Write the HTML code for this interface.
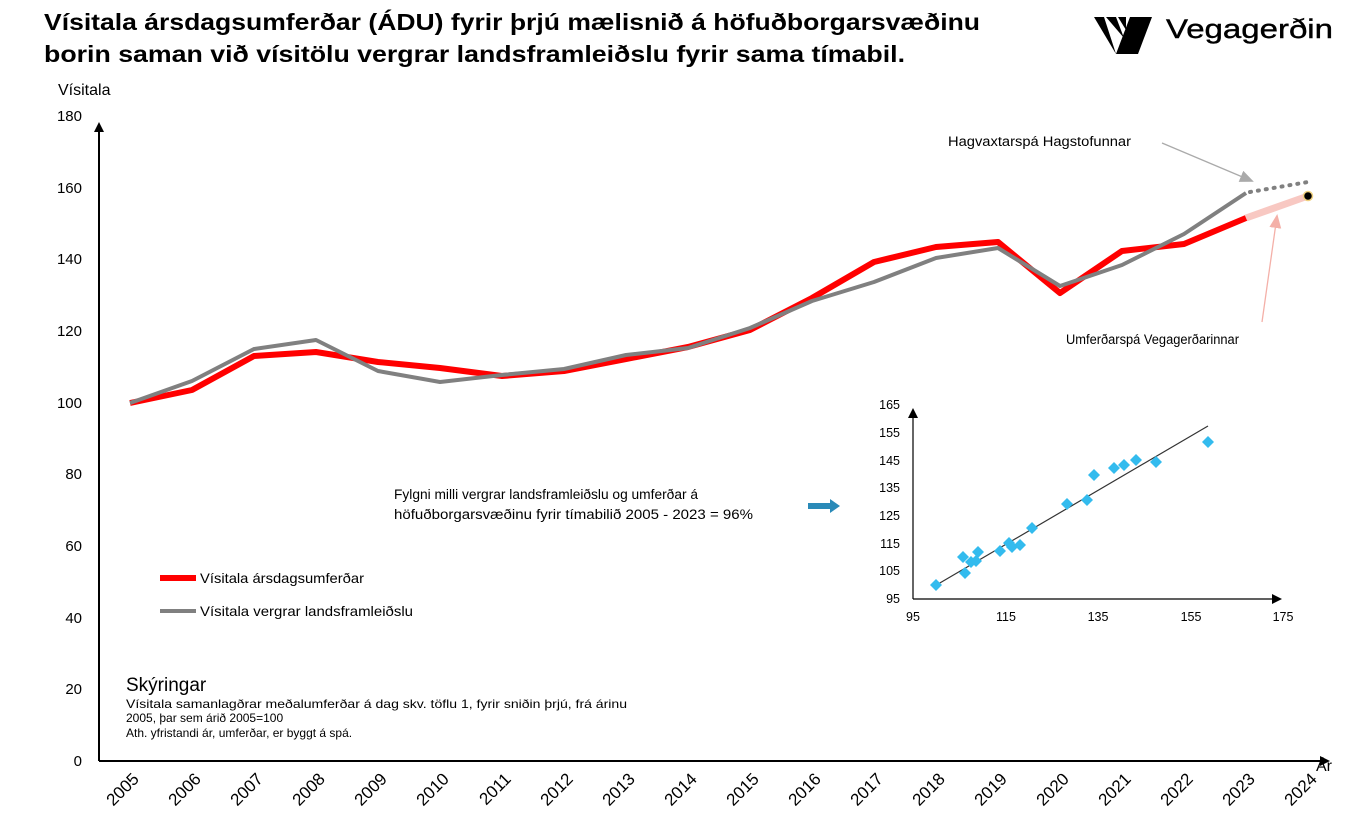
<!DOCTYPE html>
<html><head><meta charset="utf-8"><style>
body{margin:0;background:#fff;width:1351px;height:835px;overflow:hidden;font-family:"Liberation Sans",sans-serif}
</style></head><body>
<svg width="1351" height="835" xmlns="http://www.w3.org/2000/svg" font-family="Liberation Sans, sans-serif">
<defs>
<marker id="ah" markerUnits="userSpaceOnUse" markerWidth="10" markerHeight="12" refX="2" refY="6" orient="auto"><path d="M0,1 L10,6 L0,11 z" fill="#000"/></marker>
<marker id="ag" markerUnits="userSpaceOnUse" markerWidth="14" markerHeight="12" refX="12" refY="6" orient="auto"><path d="M0,0 L14,6 L0,12 z" fill="#aaa"/></marker>
<marker id="ap" markerUnits="userSpaceOnUse" markerWidth="14" markerHeight="12" refX="12" refY="6" orient="auto"><path d="M0,0 L14,6 L0,12 z" fill="#f4b0a8"/></marker>
</defs>
<text x="44" y="30" font-size="23" font-weight="bold" textLength="936" lengthAdjust="spacingAndGlyphs">Vísitala ársdagsumferðar (ÁDU) fyrir þrjú mælisnið á höfuðborgarsvæðinu</text>
<text x="44" y="62" font-size="23" font-weight="bold" textLength="861" lengthAdjust="spacingAndGlyphs">borin saman við vísitölu vergrar landsframleiðslu fyrir sama tímabil.</text>
<g fill="#000"><polygon points="1094,17 1104,17 1116,54"/><polygon points="1130,17 1152,17 1138,54 1116,54"/><polygon points="1106,17 1116,17 1124,38"/><polygon points="1118,17 1126,17 1126,30"/></g>
<text x="1166" y="38" font-size="27" textLength="167" lengthAdjust="spacingAndGlyphs" stroke="#000" stroke-width="0.4">Vegagerðin</text>
<text x="58" y="95" font-size="16">Vísitala</text>
<line x1="99" y1="761" x2="99" y2="130" stroke="#000" stroke-width="2" marker-end="url(#ah)"/>
<line x1="99" y1="761" x2="1322" y2="761" stroke="#000" stroke-width="2" marker-end="url(#ah)"/>
<g font-size="15" text-anchor="end">
<text x="82" y="766">0</text><text x="82" y="694">20</text><text x="82" y="623">40</text><text x="82" y="551">60</text><text x="82" y="479">80</text><text x="82" y="408">100</text><text x="82" y="336">120</text><text x="82" y="264">140</text><text x="82" y="193">160</text><text x="82" y="121">180</text>
</g>
<text x="1316" y="771" font-size="16">Ár</text>
<g font-size="17" text-anchor="end">
<text transform="translate(140,780) rotate(-45)">2005</text><text transform="translate(202,780) rotate(-45)">2006</text><text transform="translate(264,780) rotate(-45)">2007</text><text transform="translate(326,780) rotate(-45)">2008</text><text transform="translate(388,780) rotate(-45)">2009</text><text transform="translate(450,780) rotate(-45)">2010</text><text transform="translate(512,780) rotate(-45)">2011</text><text transform="translate(574,780) rotate(-45)">2012</text><text transform="translate(636,780) rotate(-45)">2013</text><text transform="translate(698,780) rotate(-45)">2014</text><text transform="translate(760,780) rotate(-45)">2015</text><text transform="translate(822,780) rotate(-45)">2016</text><text transform="translate(884,780) rotate(-45)">2017</text><text transform="translate(946,780) rotate(-45)">2018</text><text transform="translate(1008,780) rotate(-45)">2019</text><text transform="translate(1070,780) rotate(-45)">2020</text><text transform="translate(1132,780) rotate(-45)">2021</text><text transform="translate(1194,780) rotate(-45)">2022</text><text transform="translate(1256,780) rotate(-45)">2023</text><text transform="translate(1318,780) rotate(-45)">2024</text>
</g>
<line x1="1246" y1="218" x2="1308" y2="196" stroke="#f8c8c2" stroke-width="7"/>
<line x1="1250" y1="192" x2="1308" y2="182" stroke="#808080" stroke-width="4" stroke-dasharray="1,7" stroke-linecap="round"/>
<polyline fill="none" stroke="#ff0000" stroke-width="6" stroke-linejoin="round" points="130,403 192,390 254,356 316,352 378,362 440,368 502,376 564,371 626,359 688,347 750,330 812,298 874,262 936,247 998,242 1060,293 1122,251 1184,244 1246,218"/>
<polyline fill="none" stroke="#808080" stroke-width="4" stroke-linejoin="round" points="130,403 192,381 254,349 316,340 378,371 440,382 502,375 564,369 626,355 688,348 750,328 812,301 874,282 936,258 998,248 1060,286 1122,265 1184,234 1246,193"/>
<circle cx="1308" cy="196" r="4.5" fill="#000" stroke="#f0d080" stroke-width="1.5"/>
<text x="948" y="146" font-size="13.5" textLength="183" lengthAdjust="spacingAndGlyphs">Hagvaxtarspá Hagstofunnar</text>
<line x1="1162" y1="143" x2="1252" y2="181" stroke="#aaa" stroke-width="1.3" marker-end="url(#ag)"/>
<text x="1066" y="344" font-size="13.5" textLength="173" lengthAdjust="spacingAndGlyphs">Umferðarspá Vegagerðarinnar</text>
<line x1="1262" y1="322" x2="1277" y2="216" stroke="#f4b0a8" stroke-width="1.3" marker-end="url(#ap)"/>
<line x1="160" y1="578" x2="196" y2="578" stroke="#ff0000" stroke-width="6"/>
<text x="200" y="583" font-size="14" textLength="164" lengthAdjust="spacingAndGlyphs">Vísitala ársdagsumferðar</text>
<line x1="160" y1="611" x2="196" y2="611" stroke="#808080" stroke-width="4"/>
<text x="200" y="616" font-size="14" textLength="213" lengthAdjust="spacingAndGlyphs">Vísitala vergrar landsframleiðslu</text>
<text x="126" y="691" font-size="19">Skýringar</text>
<text x="126" y="708" font-size="12" textLength="501" lengthAdjust="spacingAndGlyphs">Vísitala samanlagðrar meðalumferðar á dag  skv. töflu 1, fyrir sniðin  þrjú, frá árinu</text>
<text x="126" y="722" font-size="12">2005, þar sem árið 2005=100</text>
<text x="126" y="737" font-size="12">Ath. yfristandi ár, umferðar, er byggt á spá.</text>
<text x="394" y="499" font-size="13.5" textLength="304" lengthAdjust="spacingAndGlyphs">Fylgni milli vergrar landsframleiðslu og umferðar á</text>
<text x="394" y="519" font-size="13.5" textLength="359" lengthAdjust="spacingAndGlyphs">höfuðborgarsvæðinu fyrir tímabilið 2005 - 2023 = 96%</text>
<polygon points="808,503 830,503 830,499 840,506 830,513 830,509 808,509" fill="#2a8ab8"/>
<line x1="913" y1="599" x2="913" y2="416" stroke="#000" stroke-width="1.2" marker-end="url(#ah)"/>
<line x1="913" y1="599" x2="1274" y2="599" stroke="#000" stroke-width="1.2" marker-end="url(#ah)"/>
<g font-size="12.5" text-anchor="end">
<text x="900" y="603">95</text><text x="900" y="575">105</text><text x="900" y="548">115</text><text x="900" y="520">125</text><text x="900" y="492">135</text><text x="900" y="465">145</text><text x="900" y="437">155</text><text x="900" y="409">165</text>
</g>
<g font-size="12.5" text-anchor="middle">
<text x="913" y="621">95</text><text x="1006" y="621">115</text><text x="1098" y="621">135</text><text x="1191" y="621">155</text><text x="1283" y="621">175</text>
</g>
<line x1="933" y1="587" x2="1208" y2="426" stroke="#333" stroke-width="1.2"/>
<g fill="#33bbee">
<path d="M936,579l6,6l-6,6l-6,-6z"/><path d="M963,551l6,6l-6,6l-6,-6z"/><path d="M965,567l6,6l-6,6l-6,-6z"/><path d="M971,556l6,6l-6,6l-6,-6z"/><path d="M976,555l6,6l-6,6l-6,-6z"/><path d="M978,546l6,6l-6,6l-6,-6z"/><path d="M1000,545l6,6l-6,6l-6,-6z"/><path d="M1009,537l6,6l-6,6l-6,-6z"/><path d="M1012,541l6,6l-6,6l-6,-6z"/><path d="M1020,539l6,6l-6,6l-6,-6z"/><path d="M1032,522l6,6l-6,6l-6,-6z"/><path d="M1067,498l6,6l-6,6l-6,-6z"/><path d="M1087,494l6,6l-6,6l-6,-6z"/><path d="M1094,469l6,6l-6,6l-6,-6z"/><path d="M1114,462l6,6l-6,6l-6,-6z"/><path d="M1124,459l6,6l-6,6l-6,-6z"/><path d="M1136,454l6,6l-6,6l-6,-6z"/><path d="M1156,456l6,6l-6,6l-6,-6z"/><path d="M1208,436l6,6l-6,6l-6,-6z"/>
</g>
</svg>
</body></html>
